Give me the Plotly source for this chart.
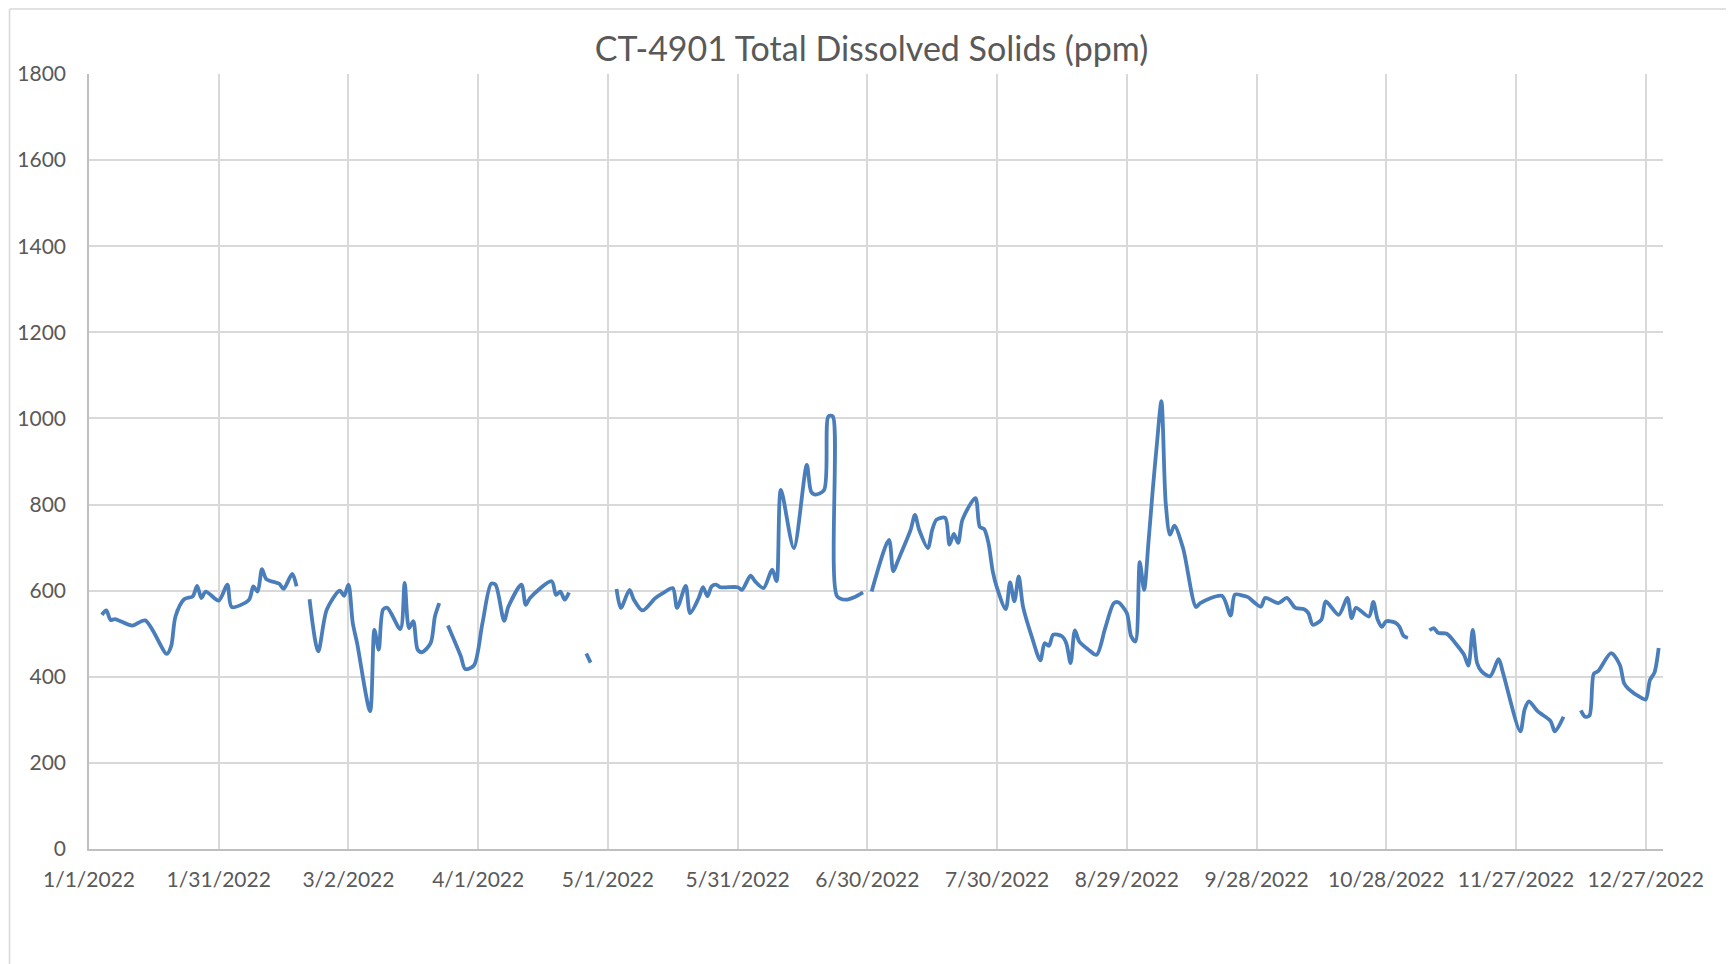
import pandas as pd
import plotly.graph_objects as go

# Days since 2022-01-01 and TDS readings (ppm); None marks a gap in the record
day_offsets = [
    3, 4, 5, 6, 10, 13, 18, 19, 20, 22, 24, 25, 26, 27, 30, 32, 33, 37, 38, 39, 40, 41, 44, 45, 47, 48, 49,
    51, 53, 55, 58, 59, 60, 61, 62, 65, 66, 67, 68, 69, 72, 73, 74, 75, 76, 77, 79, 80, 81, 82,
    83, 86, 87, 89, 91, 93, 94, 96, 97, 100, 101, 102, 107, 108, 109, 110, 111, 113,
    115, 116, 119,
    122, 123, 125, 126, 128, 131, 133, 135, 136, 138, 139, 141, 142, 143, 144, 145, 146, 150, 151, 153,
    154, 156, 158, 159, 160, 163, 166, 167, 168, 170, 171, 172, 173, 175, 177, 179, 180,
    181, 185, 186, 187, 190, 191, 192, 194, 195, 196, 198, 199, 200, 201, 202, 205, 206, 207, 208, 209,
    210, 212, 213, 214, 215, 216, 218, 220, 221, 222, 223, 225, 226, 227, 228, 229, 231, 233, 235, 237,
    238, 240, 241, 242, 243, 244, 245, 246, 247, 248, 249, 250, 251, 253, 256, 257, 262, 264, 265, 267,
    268, 271, 272, 275, 277, 279, 281, 282, 283, 285, 286, 289, 291, 292, 293, 296, 297, 298, 299, 300,
    302, 303, 304, 305, 307,
    310, 311, 312, 314, 316, 318, 319, 320, 321, 322, 324, 326, 327, 331, 332, 333, 335, 338, 339, 341, 343,
    345, 346, 347, 348, 349, 352, 354, 355, 356, 359, 360, 361, 362, 363,
]

tds_ppm = [
    544, 554, 532, 534, 519, 531, 453, 471, 540, 580, 587, 611, 583, 598, 577, 614, 562, 579, 610, 598, 650, 627, 616, 604, 639, 610, None,
    580, 459, 556, 600, 588, 614, 525, 478, 320, 509, 463, 556, 560, 511, 618, 513, 529, 463, 457, 478, 540, 571, None,
    519, 447, 418, 426, 525, 616, 614, 530, 563, 614, 567, 583, 622, 590, 598, 579, 596, None,
    454, 433, None,
    604, 560, 602, 579, 554, 583, 596, 606, 560, 611, 548, 583, 608, 587, 610, 614, 608, 608, 602, 635,
    622, 606, 649, 622, 834, 699, 892, 830, 823, 834, 1005, 1005, 587, 579, 585, 596, None,
    598, 718, 645, 668, 741, 776, 741, 699, 741, 765, 769, 707, 732, 711, 765, 815, 748, 743, 711, 645,
    606, 557, 619, 575, 633, 563, 494, 438, 478, 472, 498, 494, 478, 432, 508, 482, 464, 451, 513, 571,
    573, 548, 494, 482, 666, 602, 711, 834, 945, 1040, 803, 730, 751, 699, 562, 571, 588, 542, 591, 588,
    585, 563, 583, 571, 583, 560, 557, 548, 521, 533, 575, 544, 583, 536, 560, 540, 574, 533, 516, 529,
    526, 517, 495, 490, None,
    508, 513, 502, 500, 478, 451, 426, 509, 432, 413, 401, 441, 409, 273, 324, 343, 320, 297, 273, 307, None,
    322, 307, 310, 407, 413, 455, 428, 385, 372, 351, 347, 393, 409, 467,
]

tick_dates = ["2022-01-01", "2022-01-31", "2022-03-02", "2022-04-01", "2022-05-01", "2022-05-31",
              "2022-06-30", "2022-07-30", "2022-08-29", "2022-09-28", "2022-10-28", "2022-11-27",
              "2022-12-27"]
tick_labels = ["1/1/2022", "1/31/2022", "3/2/2022", "4/1/2022", "5/1/2022", "5/31/2022",
               "6/30/2022", "7/30/2022", "8/29/2022", "9/28/2022", "10/28/2022", "11/27/2022",
               "12/27/2022"]

title_text = "CT-4901 Total Dissolved Solids (ppm)"

start = pd.Timestamp("2022-01-01")
dates = [start + pd.Timedelta(days=d) for d in day_offsets]

FONT = "Lato, 'Open Sans', sans-serif"
TXT = "#595959"
GRID = "#D9D9D9"
AXIS = "#BFBFBF"

fig = go.Figure()
fig.add_trace(go.Scatter(
    x=dates, y=tds_ppm, mode="lines",
    line=dict(color="#4A7EBB", width=3.8, shape="spline", smoothing=0.8),
    connectgaps=False, showlegend=False, hoverinfo="x+y",
))

# page body has an 8px margin: figure occupies page x 8..1734, y 8..964
fig.update_layout(
    width=1726, height=956,
    margin=dict(l=80.5, r=71, t=66, b=115),
    paper_bgcolor="white", plot_bgcolor="white",
    font=dict(family=FONT, color=TXT),
    title=dict(text=title_text, x=0.5003, xref="container", xanchor="center",
               y=1 - 41 / 956, yref="container", yanchor="middle",
               font=dict(family=FONT, size=34, color=TXT)),
    shapes=[
        dict(type="line", xref="paper", yref="paper",
             x0=-79.5 / 1574.5, x1=1.2, y0=1 + 65 / 775, y1=1 + 65 / 775,
             line=dict(color=GRID, width=1.6)),
        dict(type="line", xref="paper", yref="paper",
             x0=-79.5 / 1574.5, x1=-79.5 / 1574.5, y0=-0.3, y1=1 + 65 / 775,
             line=dict(color=GRID, width=1.6)),
    ],
)

fig.update_xaxes(
    type="date", range=["2022-01-01", "2022-12-31"],
    tickmode="array", tickvals=tick_dates, ticktext=tick_labels,
    showgrid=True, gridcolor=GRID, gridwidth=1.5,
    showline=True, linecolor=AXIS, linewidth=1.5,
    ticks="outside", ticklen=11, tickcolor="rgba(0,0,0,0)",
    tickfont=dict(family=FONT, size=21, color=TXT),
    zeroline=False, automargin=False,
)
fig.update_yaxes(
    range=[0, 1800], tickmode="linear", tick0=0, dtick=200,
    showgrid=True, gridcolor=GRID, gridwidth=1.5,
    showline=True, linecolor=AXIS, linewidth=1.5, zeroline=False,
    ticks="outside", ticklen=17, tickcolor="rgba(0,0,0,0)",
    tickfont=dict(family=FONT, size=21, color=TXT),
    automargin=False,
)

fig.write_html("out.html")
